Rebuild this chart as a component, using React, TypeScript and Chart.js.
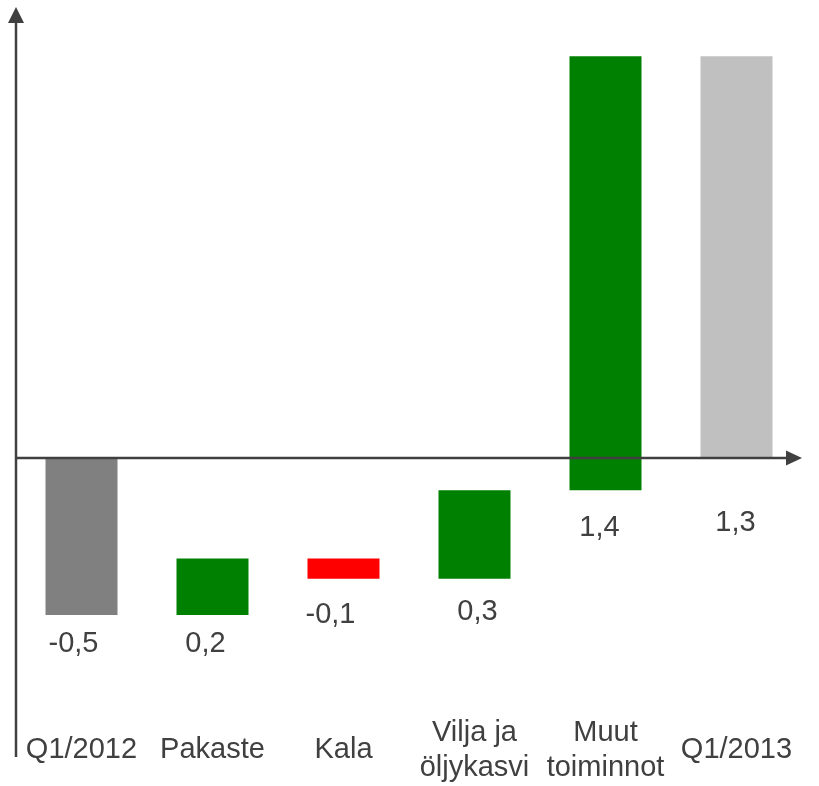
import React, { useEffect, useRef } from "react";
import { Chart, registerables } from "chart.js";

Chart.register(...registerables);

const categories: (string | string[])[] = [
  "Q1/2012",
  "Pakaste",
  "Kala",
  ["Vilja ja", "öljykasvi"],
  ["Muut", "toiminnot"],
  "Q1/2013",
];
const barStart = [0, -0.503, -0.322, -0.387, -0.103, 0];
const barEnd = [-0.503, -0.322, -0.387, -0.103, 1.288, 1.288];
const valueLabels = ["-0,5", "0,2", "-0,1", "0,3", "1,4", "1,3"];
const barColors = ["#808080", "#008000", "#FF0000", "#008000", "#008000", "#C0C0C0"];

const TEXT = "#404040";
const FONT = "Liberation Sans, Arial, sans-serif";

const overlay = {
  id: "waterfallOverlay",
  afterDatasetsDraw(chart: any) {
    const ctx = chart.ctx;
    const area = chart.chartArea;
    const y = chart.scales.y;
    const zeroY = y.getPixelForValue(0);
    const axisX = area.left;
    ctx.save();
    ctx.strokeStyle = TEXT;
    ctx.fillStyle = TEXT;
    ctx.lineWidth = 2.5;
    // y axis
    ctx.beginPath();
    ctx.moveTo(axisX, area.bottom + 44);
    ctx.lineTo(axisX, area.top + 14);
    ctx.stroke();
    ctx.beginPath();
    ctx.moveTo(axisX, area.top);
    ctx.lineTo(axisX - 8, area.top + 16);
    ctx.lineTo(axisX + 8, area.top + 16);
    ctx.closePath();
    ctx.fill();
    // x axis
    ctx.beginPath();
    ctx.moveTo(axisX, zeroY);
    ctx.lineTo(area.right - 14, zeroY);
    ctx.stroke();
    ctx.beginPath();
    ctx.moveTo(area.right, zeroY);
    ctx.lineTo(area.right - 16, zeroY - 7.5);
    ctx.lineTo(area.right - 16, zeroY + 7.5);
    ctx.closePath();
    ctx.fill();

    // value labels
    const dx = [-8, -7, -13, 3, -6, -1];
    const dy = [29, 29, 36, 33, 38, 65];
    const meta = chart.getDatasetMeta(0);
    ctx.font = `29px ${FONT}`;
    ctx.textAlign = "center";
    ctx.textBaseline = "middle";
    meta.data.forEach((bar: any, i: number) => {
      const lowY = Math.max(
        y.getPixelForValue(barStart[i]),
        y.getPixelForValue(barEnd[i])
      );
      ctx.fillText(valueLabels[i], bar.x + dx[i], lowY + dy[i]);
    });
    ctx.restore();
  },
};

export default function App() {
  const ref = useRef<HTMLCanvasElement>(null);
  useEffect(() => {
    if (!ref.current) return;
    const zeroPx = 458;
    const topPx = 7;
    const bottomPx = 713;
    const pxPerUnit = 312;
    const chart = new Chart(ref.current, {
      type: "bar",
      data: {
        labels: categories as any,
        datasets: [
          {
            data: barStart.map((s, i) => [s, barEnd[i]]) as any,
            backgroundColor: barColors,
            borderWidth: 0,
            categoryPercentage: 1,
            barPercentage: 72 / 131,
          },
        ],
      },
      options: {
        animation: false,
        responsive: false,
        maintainAspectRatio: false,
        layout: { padding: { left: 16, right: 17, top: topPx, bottom: 0 } },
        plugins: { legend: { display: false }, tooltip: { enabled: false } },
        scales: {
          x: {
            grid: { display: false, drawTicks: false },
            border: { display: false },
            ticks: {
              color: TEXT,
              font: { family: FONT, size: 29, lineHeight: 1.2 },
              padding: 20,
              maxRotation: 0,
              autoSkip: false,
              crossAlign: "center",
            },
            afterFit: (scale: any) => {
              scale.height = 786 - bottomPx;
            },
          } as any,
          y: {
            display: false,
            min: -(bottomPx - zeroPx) / pxPerUnit,
            max: (zeroPx - topPx) / pxPerUnit,
          },
        },
      },
      plugins: [overlay],
    });
    return () => chart.destroy();
  }, []);
  return (
    <div style={{ position: "absolute", left: 0, top: 0, width: 819, height: 786 }}>
      <canvas ref={ref} width={819} height={786} style={{ display: "block" }} />
    </div>
  );
}
